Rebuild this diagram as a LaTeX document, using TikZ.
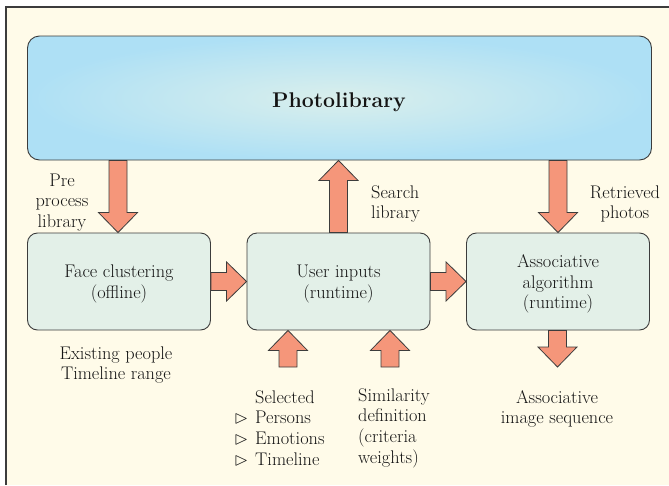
\documentclass[tikz,border=0pt]{standalone}
\usepackage{amssymb}
\usepackage{fontspec}
\usetikzlibrary{calc}
\definecolor{cream}{RGB}{255,251,233}
\definecolor{skyedge}{RGB}{174,224,245}
\definecolor{skycenter}{RGB}{218,239,236}
\definecolor{mint}{RGB}{227,240,232}
\definecolor{salmon}{RGB}{245,150,122}
\definecolor{linegray}{RGB}{60,60,60}
\definecolor{textgray}{RGB}{20,20,20}
\newcommand{\blockarr}[2]{%
  \coordinate (hb) at ($#2!20pt!#1$);
  \path[arrowshape]
    ($#1!9pt!90:#2$) -- ($(hb)!9pt!90:#2$) -- ($(hb)!19.5pt!90:#2$) -- #2
    -- ($(hb)!19.5pt!-90:#2$) -- ($(hb)!9pt!-90:#2$) -- ($#1!9pt!-90:#2$) -- cycle;}
\newcommand{\tri}{\makebox[21pt][l]{$\vartriangleright$}}
\begin{document}
\begin{tikzpicture}[x=1pt,y=-1pt,
  arrowshape/.style={fill=salmon,draw=linegray,line width=0.8pt,line join=miter},
  procbox/.style={draw=linegray,line width=0.9pt,fill=mint,rounded corners=10pt,
    minimum width=183pt,minimum height=97pt,inner sep=0pt},
  lbl/.style={inner sep=0pt,text=textgray,font=\fontsize{18.3}{20.7}\selectfont},
  frameline/.style={draw=linegray,line width=1.3pt}]
\useasboundingbox (0,0) rectangle (669,485);
\fill[white] (0,0) rectangle (669,485);
\fill[cream] (6,7) rectangle (669,485);
\draw[frameline] (6,485) -- (6,7) -- (669,7);
% top library box
\node[draw=linegray,line width=0.9pt,rounded corners=12pt,inner color=skycenter,outer color=skyedge,
  minimum width=624pt,minimum height=124pt,inner sep=0pt] (photo) at (339.5,98) {};
\node[inner sep=0pt,text=textgray,font=\bfseries\fontsize{21.3}{25}\selectfont] (phototxt) at (339,102) {Photolibrary};
% process boxes
\node[procbox] (face) at (119,281.5) {};
\node[procbox] (user) at (338.5,281.5) {};
\node[procbox] (assoc) at (558,281.5) {};
\node[lbl,align=center] (facetxt) at ($(face)+(0,2.5)$) {Face clustering\\(offline)};
\node[lbl,align=center] (usertxt) at ($(user)+(0,2.5)$) {User inputs\\(runtime)};
\node[lbl,align=center] (assoctxt) at ($(assoc)+(0,2.5)$) {Associative\\algorithm\\(runtime)};
% labels
\node[lbl,align=center] (pre) at (62,202.5) {Pre\\process\\library};
\node[lbl,align=left,anchor=west] (search) at (371,204) {Search\\library};
\node[lbl,align=center] (retrieved) at (625,204) {Retrieved\\photos};
\node[lbl,align=center] (existing) at (116,365) {Existing people\\Timeline range};
\node[lbl,align=left,anchor=west] (selected) at (234,428)
  {\hspace*{21pt}Selected\\\tri Persons\\\tri Emotions\\\tri Timeline};
\node[lbl,align=left,anchor=west] (similarity) at (358,428) {Similarity\\definition\\(criteria\\weights)};
\node[lbl,align=center] (assocseq) at (557,409) {Associative\\image sequence};
% free ends
\coordinate (in1) at ([xshift=-50.5pt]user.south |- 0,367);
\coordinate (in2) at ([xshift=51.5pt]user.south |- 0,367);
\coordinate (in1t) at ([xshift=-50.5pt]user.south);
\coordinate (in2t) at ([xshift=51.5pt]user.south);
\coordinate (outb) at ([xshift=-0.5pt]assoc.south |- 0,367);
\coordinate (outt) at ([xshift=-0.5pt]assoc.south);
\coordinate (fa) at ([xshift=-1pt]face.north |- photo.south);
\coordinate (fb) at ([xshift=-1pt]face.north);
% arrows
\blockarr{(fa)}{(fb)}
\blockarr{(user.north)}{(user.north |- photo.south)}
\blockarr{(assoc.north |- photo.south)}{(assoc.north)}
\blockarr{(face.east)}{(user.west)}
\blockarr{(user.east)}{(assoc.west)}
\blockarr{(in1)}{(in1t)}
\blockarr{(in2)}{(in2t)}
\blockarr{(outt)}{(outb)}
\end{tikzpicture}
\end{document}
